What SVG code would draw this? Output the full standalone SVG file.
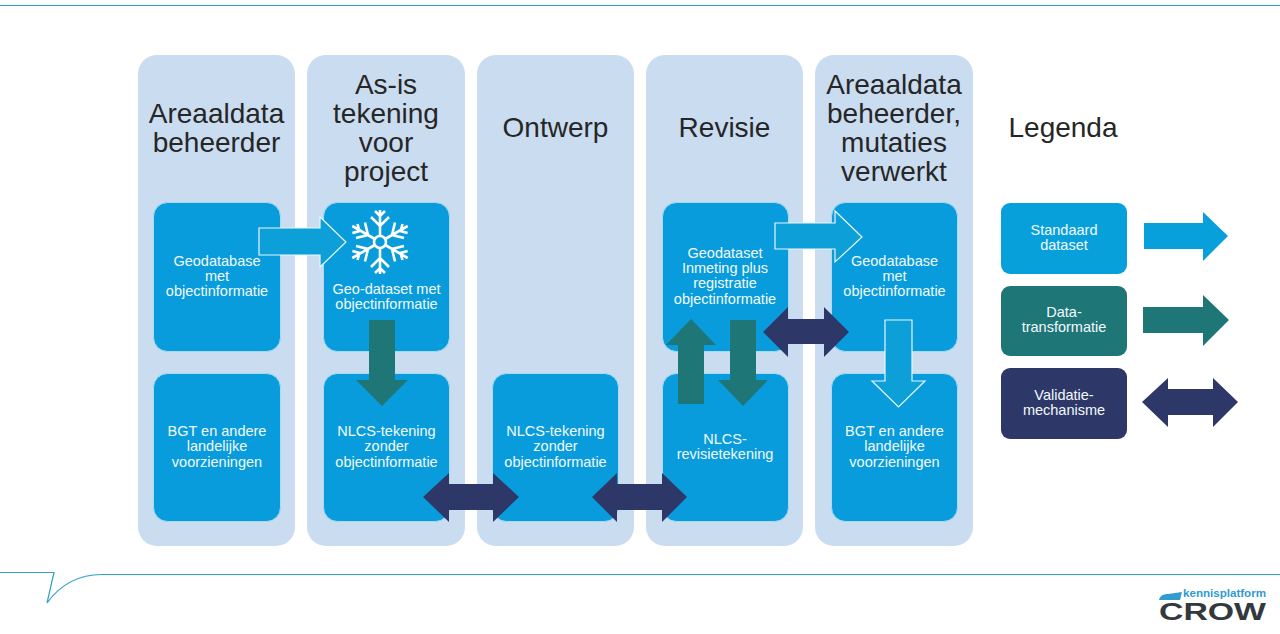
<svg xmlns="http://www.w3.org/2000/svg" width="1280" height="634" viewBox="0 0 1280 634">
<style>
text{font-family:"Liberation Sans",Arial,sans-serif;text-anchor:middle}
.col{fill:#cadcf0}
.title{font-size:28px;fill:#262626}
.cell{fill:#089cdc;stroke:#a8dcf5;stroke-width:1}
.t{font-size:14.5px;fill:#f2fafd}
.sa{fill:#0d9fd8;stroke:#e8f6fb;stroke-width:1.2}
.ta{fill:#1e7677}
.va{fill:#2e3868}
.rule{fill:none;stroke:#2f9fc9;stroke-width:1.2}
</style>
<rect width="1280" height="634" fill="#fff"/>
<g id="frame">
<path class="rule" d="M0 5.500H1280"/>
<path class="rule" d="M0 572.500H54L47 603C60 585 78 574.500 102 574.500H1280"/>
</g>
<g id="col-areaaldata"><rect class="col" x="138" y="55" width="157" height="491" rx="19"/>
<text class="title" x="216.500" y="123">Areaaldata</text><text class="title" x="216.500" y="152">beheerder</text></g>
<g id="col-asis"><rect class="col" x="307" y="55" width="158" height="491" rx="19"/>
<text class="title" x="386" y="94">As-is</text><text class="title" x="386" y="123">tekening</text><text class="title" x="386" y="152">voor</text><text class="title" x="386" y="181">project</text></g>
<g id="col-ontwerp"><rect class="col" x="477" y="55" width="157" height="491" rx="19"/>
<text class="title" x="555.500" y="137">Ontwerp</text></g>
<g id="col-revisie"><rect class="col" x="646" y="55" width="157" height="491" rx="19"/>
<text class="title" x="724.500" y="137">Revisie</text></g>
<g id="col-mutaties"><rect class="col" x="815" y="55" width="158" height="491" rx="19"/>
<text class="title" x="894" y="94">Areaaldata</text><text class="title" x="894" y="123">beheerder,</text><text class="title" x="894" y="152">mutaties</text><text class="title" x="894" y="181">verwerkt</text></g>
<g id="legend-title"><text class="title" x="1063" y="137">Legenda</text></g>

<g id="n-geodatabase-1"><rect class="cell" x="153.500" y="202.500" width="127" height="149" rx="14"/>
<text class="t" x="217" y="266">Geodatabase</text><text class="t" x="217" y="281">met</text><text class="t" x="217" y="296">objectinformatie</text></g>
<g id="n-bgt-1"><rect class="cell" x="153.500" y="373.500" width="127" height="148" rx="14"/>
<text class="t" x="217" y="436">BGT en andere</text><text class="t" x="217" y="451">landelijke</text><text class="t" x="217" y="467">voorzieningen</text></g>
<g id="n-geodataset"><rect class="cell" x="323.500" y="202.500" width="126" height="149" rx="14"/>
<text class="t" x="386.500" y="294">Geo-dataset met</text><text class="t" x="386.500" y="309">objectinformatie</text>
<g fill="none" stroke="#fff" stroke-width="2.600">
<circle cx="380" cy="242" r="6"/>
<g id="flake">
<path d="M380 236V210M371 217L380 226L389 217M375 211L380 216L385 211"/>
<path d="M380 248V274M371 267L380 258L389 267M375 273L380 268L385 273"/>
<path d="M374.800 239L352.300 226M356 238L368 235L365 222.500M352.400 233L359.500 231L357.500 224"/>
<path d="M385.200 245L407.700 258M404 246L392 249L395 261.500M407.600 251L400.500 253L402.500 260"/>
<path d="M385.200 239L407.700 226M404 238L392 235L395 222.500M407.600 233L400.500 231L402.500 224"/>
<path d="M374.800 245L352.300 258M356 246L368 249L365 261.500M352.400 251L359.500 253L357.500 260"/>
</g></g></g>
<g id="n-nlcs-1"><rect class="cell" x="323.500" y="373.500" width="126" height="148" rx="14"/>
<text class="t" x="386.500" y="436">NLCS-tekening</text><text class="t" x="386.500" y="451">zonder</text><text class="t" x="386.500" y="467">objectinformatie</text></g>
<g id="n-nlcs-2"><rect class="cell" x="492.500" y="373.500" width="126" height="148" rx="14"/>
<text class="t" x="555.500" y="436">NLCS-tekening</text><text class="t" x="555.500" y="451">zonder</text><text class="t" x="555.500" y="467">objectinformatie</text></g>
<g id="n-inmeting"><rect class="cell" x="662.500" y="202.500" width="126" height="149" rx="14"/>
<text class="t" x="725" y="258">Geodataset</text><text class="t" x="725" y="273">Inmeting plus</text><text class="t" x="725" y="288">registratie</text><text class="t" x="725" y="304">objectinformatie</text></g>
<g id="n-revisie"><rect class="cell" x="662.500" y="373.500" width="126" height="148" rx="14"/>
<text class="t" x="725" y="444">NLCS-</text><text class="t" x="725" y="459">revisietekening</text></g>
<g id="n-geodatabase-2"><rect class="cell" x="831.500" y="202.500" width="126" height="149" rx="14"/>
<text class="t" x="894.500" y="266">Geodatabase</text><text class="t" x="894.500" y="281">met</text><text class="t" x="894.500" y="296">objectinformatie</text></g>
<g id="n-bgt-2"><rect class="cell" x="831.500" y="373.500" width="126" height="148" rx="14"/>
<text class="t" x="894.500" y="436">BGT en andere</text><text class="t" x="894.500" y="451">landelijke</text><text class="t" x="894.500" y="467">voorzieningen</text></g>

<g id="legend-standaard"><rect x="1001" y="203" width="126" height="71" rx="9" fill="#08a0da"/>
<text class="t" x="1064" y="235">Standaard</text><text class="t" x="1064" y="250">dataset</text></g>
<g id="legend-transformatie"><rect x="1001" y="286" width="126" height="70" rx="9" fill="#1e7677"/>
<text class="t" x="1064" y="317">Data-</text><text class="t" x="1064" y="332">transformatie</text></g>
<g id="legend-validatie"><rect x="1001" y="368" width="126" height="71" rx="9" fill="#2e3868"/>
<text class="t" x="1064" y="400">Validatie-</text><text class="t" x="1064" y="415">mechanisme</text></g>

<g id="connectors">
<path class="sa" d="M259 228H320V217L346 242L320 267V255H259Z"/>
<path class="sa" d="M775 223H835V211L862 237L835 262V249H775Z"/>
<path class="sa" d="M885 320H912V381H925L898.500 407L872 381H885Z"/>
<path class="ta" d="M369 320H395V380H408L382 406L356 380H369Z"/>
<path class="ta" d="M678 404H704V345H716L691 319L666 345H678Z"/>
<path class="ta" d="M730 320H756V380H768L743 406L718 380H730Z"/>
<path class="va" d="M763 332L788 307V319H824V307L849 332L824 357V344H788V357Z"/>
<path class="va" d="M423 497L449 473V484H493V473L519 497L493 522V510H449V522Z"/>
<path class="va" d="M592 497L617 473V484H662V473L687 497L662 522V510H617V522Z"/>
<path d="M1144 223H1203V212L1228 236L1203 261V249H1144Z" fill="#08a0da"/>
<path class="ta" d="M1143 307H1203V295L1229 320L1203 346V333H1143Z"/>
<path class="va" d="M1142 402L1168 378V389H1213V378L1238 402L1213 427V415H1168V427Z"/>
</g>
<g id="logo">
<path d="M1159 600C1160 596 1163 594 1168 594L1182 592L1180 600Z" fill="#2f9bd0"/>
<text x="1224.500" y="597" style="font-size:11px;font-weight:700;fill:#2f9bd0" textLength="83" lengthAdjust="spacingAndGlyphs">kennisplatform</text>
<text x="1212.500" y="620" style="font-size:23.500px;font-weight:700;fill:#33383d" textLength="107" lengthAdjust="spacingAndGlyphs">CROW</text>
</g>
</svg>
